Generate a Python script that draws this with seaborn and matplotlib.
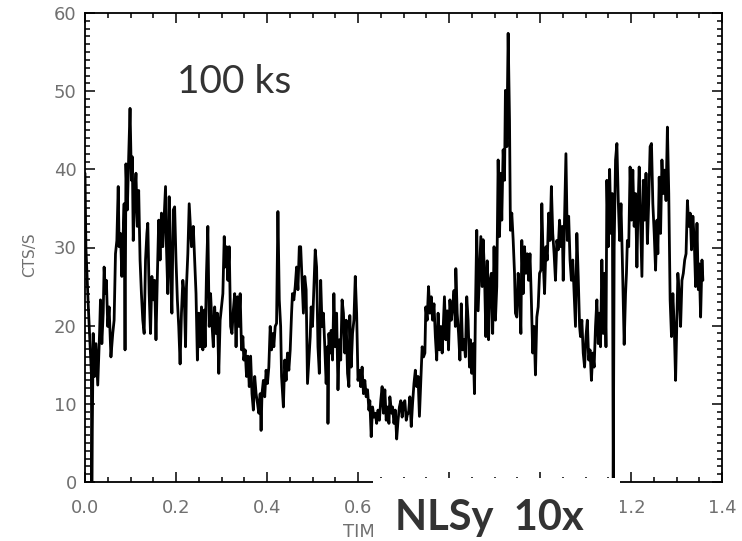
import numpy as np
import pandas as pd
import matplotlib.pyplot as plt
import seaborn as sns
from matplotlib.patches import Rectangle
from matplotlib.ticker import MultipleLocator, FuncFormatter

# Light curve (time in plot units, count rate in cts/s)
time = [
    0.000, 0.002, 0.007, 0.010, 0.014, 0.015, 0.018, 0.021, 0.024, 0.028,
    0.032, 0.034, 0.037, 0.040, 0.042, 0.045, 0.047, 0.050, 0.053, 0.057,
    0.061, 0.064, 0.067, 0.070, 0.073, 0.075, 0.078, 0.081, 0.084, 0.086,
    0.088, 0.090, 0.093, 0.096, 0.099, 0.102, 0.104, 0.106, 0.109, 0.112,
    0.115, 0.118, 0.121, 0.124, 0.127, 0.130, 0.133, 0.136, 0.138, 0.141,
    0.144, 0.147, 0.150, 0.153, 0.156, 0.159, 0.162, 0.165, 0.168, 0.171,
    0.174, 0.177, 0.179, 0.182, 0.185, 0.188, 0.191, 0.194, 0.197, 0.200,
    0.203, 0.206, 0.209, 0.212, 0.215, 0.218, 0.221, 0.223, 0.226, 0.229,
    0.234, 0.238, 0.241, 0.244, 0.247, 0.250, 0.253, 0.256, 0.259, 0.262,
    0.264, 0.267, 0.270, 0.273, 0.276, 0.279, 0.282, 0.285, 0.288, 0.291,
    0.294, 0.297, 0.300, 0.303, 0.306, 0.308, 0.311, 0.314, 0.317, 0.320,
    0.323, 0.326, 0.329, 0.332, 0.335, 0.338, 0.341, 0.344, 0.347, 0.349,
    0.352, 0.355, 0.358, 0.361, 0.364, 0.367, 0.370, 0.373, 0.376, 0.379,
    0.382, 0.385, 0.387, 0.389, 0.392, 0.395, 0.398, 0.401, 0.404, 0.407,
    0.410, 0.413, 0.415, 0.418, 0.421, 0.424, 0.427, 0.430, 0.432, 0.436,
    0.439, 0.442, 0.445, 0.448, 0.451, 0.454, 0.456, 0.459, 0.462, 0.465,
    0.468, 0.471, 0.474, 0.477, 0.480, 0.483, 0.486, 0.489, 0.492, 0.495,
    0.497, 0.500, 0.503, 0.506, 0.509, 0.512, 0.515, 0.518, 0.521, 0.524,
    0.527, 0.530, 0.533, 0.534, 0.536, 0.539, 0.541, 0.544, 0.547, 0.550,
    0.553, 0.556, 0.559, 0.562, 0.565, 0.568, 0.571, 0.574, 0.577, 0.580,
    0.582, 0.585, 0.588, 0.591, 0.594, 0.597, 0.600, 0.603, 0.606, 0.609,
    0.612, 0.615, 0.618, 0.621, 0.624, 0.626, 0.629, 0.632, 0.635, 0.638,
    0.641, 0.644, 0.647, 0.650, 0.653, 0.656, 0.659, 0.662, 0.665, 0.668,
    0.670, 0.674, 0.676, 0.679, 0.682, 0.685, 0.688, 0.691, 0.694, 0.697,
    0.700, 0.703, 0.706, 0.709, 0.711, 0.714, 0.717, 0.720, 0.723, 0.726,
    0.729, 0.732, 0.735, 0.738, 0.741, 0.744, 0.747, 0.749, 0.752, 0.755,
    0.758, 0.761, 0.764, 0.767, 0.770, 0.773, 0.776, 0.779, 0.782, 0.785,
    0.788, 0.790, 0.793, 0.796, 0.799, 0.802, 0.805, 0.808, 0.811, 0.814,
    0.815, 0.818, 0.821, 0.824, 0.827, 0.830, 0.833, 0.836, 0.839, 0.842,
    0.845, 0.847, 0.850, 0.853, 0.856, 0.858, 0.861, 0.864, 0.867, 0.870,
    0.873, 0.875, 0.878, 0.881, 0.884, 0.887, 0.890, 0.893, 0.896, 0.899,
    0.902, 0.905, 0.908, 0.911, 0.914, 0.916, 0.919, 0.922, 0.924, 0.927,
    0.930, 0.933, 0.935, 0.938, 0.941, 0.944, 0.946, 0.949, 0.952, 0.955,
    0.958, 0.960, 0.963, 0.966, 0.969, 0.972, 0.975, 0.978, 0.981, 0.984,
    0.987, 0.990, 0.993, 0.996, 0.999, 1.002, 1.004, 1.007, 1.010, 1.013,
    1.016, 1.019, 1.022, 1.025, 1.028, 1.031, 1.034, 1.037, 1.040, 1.043,
    1.046, 1.049, 1.051, 1.054, 1.057, 1.060, 1.063, 1.066, 1.069, 1.072,
    1.075, 1.078, 1.081, 1.084, 1.087, 1.089, 1.092, 1.095, 1.098, 1.101,
    1.104, 1.107, 1.110, 1.113, 1.116, 1.119, 1.122, 1.125, 1.128, 1.130,
    1.133, 1.136, 1.139, 1.142, 1.145, 1.147, 1.150, 1.153, 1.156, 1.159,
    1.161, 1.163, 1.166, 1.169, 1.172, 1.175, 1.178, 1.181, 1.185, 1.188,
    1.190, 1.192, 1.195, 1.198, 1.201, 1.204, 1.207, 1.210, 1.213, 1.215,
    1.218, 1.221, 1.224, 1.227, 1.230, 1.233, 1.236, 1.239, 1.242, 1.245,
    1.248, 1.251, 1.254, 1.257, 1.259, 1.262, 1.265, 1.268, 1.271, 1.274,
    1.277, 1.280, 1.283, 1.286, 1.289, 1.292, 1.295, 1.298, 1.301, 1.303,
    1.306, 1.309, 1.312, 1.315, 1.318, 1.321, 1.324, 1.327, 1.330, 1.333,
    1.336, 1.339, 1.342, 1.345, 1.348, 1.350, 1.353, 1.356, 1.358,
]
rate = [
    39.5, 30.0, 22.8, 19.0, 13.9, 0.0, 19.0, 13.5, 17.7, 12.4,
    19.0, 23.3, 17.7, 21.6, 27.5, 24.1, 25.8, 19.9, 22.4, 16.0,
    19.0, 20.7, 29.2, 30.9, 37.8, 30.1, 31.8, 26.3, 31.8, 35.6,
    16.9, 40.7, 34.8, 41.6, 47.8, 38.6, 41.6, 30.9, 36.0, 39.5,
    32.7, 37.3, 28.4, 24.1, 20.7, 19.0, 28.4, 31.8, 33.1, 24.1,
    19.0, 26.3, 23.3, 25.8, 18.2, 26.3, 33.5, 28.4, 34.4, 30.1,
    34.0, 37.8, 30.1, 24.1, 36.5, 27.5, 21.6, 34.8, 35.2, 28.4,
    23.3, 19.9, 15.1, 21.6, 25.8, 24.1, 17.3, 25.0, 29.2, 35.6,
    30.1, 32.7, 28.4, 24.1, 15.6, 21.6, 17.3, 22.4, 16.9, 22.0,
    17.3, 26.7, 32.7, 19.9, 24.1, 20.3, 17.3, 22.4, 19.0, 21.6,
    13.9, 20.7, 22.4, 24.1, 31.4, 27.5, 30.1, 25.8, 30.1, 19.9,
    19.0, 22.0, 24.1, 17.3, 23.7, 19.9, 24.1, 16.9, 18.6, 15.6,
    16.9, 13.5, 16.1, 12.2, 16.1, 11.3, 9.2, 13.5, 11.3, 10.1,
    8.8, 11.3, 6.6, 11.3, 13.0, 10.9, 14.3, 12.6, 14.7, 19.9,
    16.9, 19.0, 17.3, 19.9, 20.3, 34.6, 23.3, 19.9, 13.5, 9.6,
    15.6, 13.0, 16.5, 14.3, 16.9, 21.6, 24.1, 23.3, 25.0, 27.5,
    24.6, 30.1, 30.1, 25.8, 21.6, 26.3, 24.6, 12.6, 15.6, 18.6,
    22.4, 19.9, 25.0, 29.7, 27.5, 17.3, 13.9, 25.8, 19.9, 21.6,
    17.3, 12.6, 17.3, 7.5, 19.0, 16.5, 19.4, 15.6, 24.1, 17.3,
    21.6, 11.8, 18.2, 15.6, 23.3, 21.6, 16.5, 20.7, 13.9, 12.2,
    21.3, 14.7, 19.0, 20.7, 26.3, 21.6, 13.0, 14.3, 12.2, 14.7,
    11.3, 13.0, 10.9, 11.8, 9.2, 10.4, 5.8, 9.6, 8.3, 8.8,
    7.5, 9.2, 7.9, 10.4, 12.2, 8.8, 11.8, 7.9, 9.6, 7.5,
    10.9, 8.8, 9.6, 7.5, 9.2, 5.5, 7.9, 9.6, 10.4, 8.3,
    10.1, 10.4, 7.9, 8.8, 8.8, 10.9, 7.1, 10.1, 12.6, 14.3,
    12.2, 13.5, 8.4, 13.0, 17.3, 16.0, 16.5, 22.4, 20.7, 25.0,
    21.6, 23.7, 20.7, 22.8, 18.6, 15.6, 21.6, 16.9, 19.9, 16.5,
    20.7, 23.7, 18.2, 21.9, 16.9, 23.3, 20.7, 22.4, 24.5, 19.9,
    27.3, 21.6, 19.0, 15.6, 22.8, 16.9, 18.2, 16.0, 23.7, 20.7,
    14.7, 18.2, 13.9, 17.7, 11.3, 21.6, 32.2, 21.9, 26.7, 31.4,
    25.0, 31.0, 26.7, 18.6, 28.3, 18.2, 25.8, 26.7, 19.0, 30.1,
    20.7, 25.0, 41.2, 31.4, 39.5, 33.5, 42.5, 38.6, 50.1, 42.9,
    57.4, 46.3, 32.2, 34.4, 31.0, 26.7, 21.6, 21.1, 26.7, 24.1,
    19.0, 30.9, 24.1, 30.1, 26.7, 29.2, 25.8, 29.2, 23.3, 16.5,
    19.9, 13.7, 21.1, 22.4, 26.7, 27.1, 35.6, 28.4, 24.1, 30.1,
    28.4, 34.4, 30.9, 37.8, 31.8, 29.2, 25.8, 30.9, 29.7, 33.5,
    30.1, 32.7, 25.8, 34.0, 42.0, 30.9, 34.0, 28.4, 25.8, 28.4,
    24.1, 19.9, 31.8, 26.3, 19.9, 18.6, 20.7, 16.5, 14.7, 18.6,
    20.7, 15.6, 16.9, 13.0, 16.5, 14.7, 19.9, 23.3, 17.7, 21.6,
    17.3, 28.4, 19.0, 26.7, 17.3, 38.6, 30.1, 40.0, 31.8, 36.9,
    0.0, 30.1, 41.2, 43.3, 36.0, 30.9, 35.6, 28.4, 17.6, 24.1,
    26.7, 30.9, 30.1, 40.3, 33.5, 39.9, 32.7, 36.9, 27.5, 34.0,
    40.3, 33.5, 26.3, 38.6, 33.5, 39.5, 30.5, 36.0, 42.9, 43.3,
    35.6, 31.8, 27.1, 33.5, 29.2, 39.0, 31.8, 41.2, 36.9, 39.9,
    36.0, 45.4, 36.9, 23.3, 18.6, 24.1, 19.9, 13.0, 21.6, 26.7,
    24.1, 19.9, 25.8, 26.7, 28.4, 29.2, 36.0, 32.7, 34.4, 29.7,
    34.0, 30.9, 25.0, 33.1, 24.6, 27.9, 21.1, 28.4, 25.8,
]

# tick labels that sit under the caption patch in the reference
hidden_x_labels = [0.8, 1.0]

W, H = 742, 541
grey = "#707070"

sns.set_style("ticks")
plt.rcParams["font.family"] = ["DejaVu Sans"]

fig = plt.figure(figsize=(W / 100, H / 100), dpi=100)
ax = fig.add_axes([85 / W, 1 - 482 / H, 637 / W, 469 / H])

df = pd.DataFrame({"time": time, "rate": rate})
sns.lineplot(data=df, x="time", y="rate", ax=ax, color="black",
             lw=2.0, estimator=None, sort=False)

ax.set_xlim(0, 1.4)
ax.set_ylim(0, 60)
ax.xaxis.set_major_locator(MultipleLocator(0.2))
ax.xaxis.set_minor_locator(MultipleLocator(0.05))
ax.yaxis.set_major_locator(MultipleLocator(10))
ax.yaxis.set_minor_locator(MultipleLocator(1))
ax.xaxis.set_major_formatter(FuncFormatter(
    lambda v, p: "" if any(abs(v - h) < 1e-6 for h in hidden_x_labels) else f"{v:.1f}"))
ax.tick_params(which="both", direction="in", top=True, right=True,
               color="black", labelcolor=grey)
ax.tick_params(which="major", length=7, width=1.1, labelsize=13)
ax.tick_params(which="minor", length=3.5, width=1.1)
ax.tick_params(axis="x", pad=12)
ax.tick_params(axis="y", pad=6)
ax.set_xlabel("")
ax.set_ylabel("")
for s in ax.spines.values():
    s.set_linewidth(1.3)
    s.set_color("black")

fig.text(30 / W, 1 - 255 / H, "CTS/S", rotation=90, ha="center", va="center",
         color=grey, fontsize=11)
fig.text(343 / W, 1 - 532 / H, "TIM", ha="left", va="center",
         color=grey, fontsize=13)

# white patch over the lower axis with the caption on it
fig.add_artist(Rectangle((373 / W, 0), 247 / W, 63 / H, transform=fig.transFigure,
                         facecolor="white", edgecolor="none", zorder=5))
fig.text(395 / W, 1 - 530 / H, "NLSy  10x", ha="left", va="baseline",
         fontsize=30, fontweight="bold", color="#333333",
         family=["Lato", "DejaVu Sans"], zorder=6)
fig.text(177 / W, 1 - 93 / H, "100 ks", ha="left", va="baseline",
         fontsize=28, color="#333333", family=["Lato", "DejaVu Sans"])

fig.savefig("out.png", dpi=100)
